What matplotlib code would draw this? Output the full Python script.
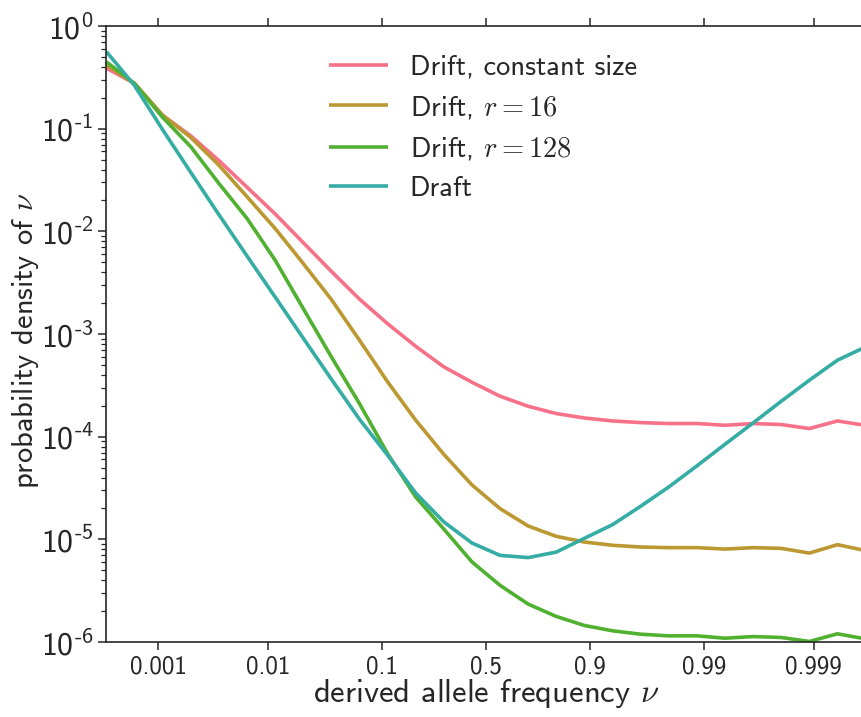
import numpy as np
import matplotlib
matplotlib.use("Agg")
import matplotlib.pyplot as plt
from matplotlib.ticker import FixedLocator, FixedFormatter, NullLocator, FuncFormatter

plt.rcParams['font.family'] = 'cmss10'
plt.rcParams['mathtext.fontset'] = 'custom'
plt.rcParams['mathtext.rm'] = 'cmss10'
plt.rcParams['mathtext.it'] = 'cmss10'
plt.rcParams['mathtext.bf'] = 'cmss10'
plt.rcParams['mathtext.fallback'] = 'cm'
plt.rcParams['axes.formatter.use_mathtext'] = True

# bin centres on the logit axis (log-odds of the derived allele frequency)
logit_nu = [-8.0, -7.407, -6.815, -6.222, -5.630, -5.037, -4.444, -3.852,
            -3.259, -2.667, -2.074, -1.481, -0.889, -0.296, 0.296, 0.889,
            1.481, 2.074, 2.667, 3.259, 3.852, 4.444, 5.037, 5.630, 6.222,
            6.815, 7.407, 8.0]

# log10 of probability density
drift_const = [-0.41, -0.56, -0.87, -1.07, -1.31, -1.57, -1.83, -2.11, -2.39,
               -2.66, -2.90, -3.12, -3.32, -3.47, -3.606, -3.704, -3.775,
               -3.818, -3.847, -3.863, -3.872, -3.872, -3.889, -3.872, -3.882,
               -3.921, -3.847, -3.89]
drift_r16 = [-0.38, -0.56, -0.87, -1.085, -1.355, -1.663, -1.972, -2.313,
             -2.664, -3.06, -3.466, -3.84, -4.172, -4.47, -4.701, -4.870,
             -4.971, -5.026, -5.058, -5.075, -5.081, -5.081, -5.095, -5.081,
             -5.088, -5.134, -5.052, -5.11]
drift_r128 = [-0.35, -0.56, -0.89, -1.176, -1.533, -1.874, -2.281, -2.752,
              -3.223, -3.678, -4.165, -4.588, -4.90, -5.22, -5.448, -5.631,
              -5.751, -5.839, -5.891, -5.924, -5.940, -5.940, -5.963, -5.947,
              -5.956, -5.995, -5.92, -5.97]
draft = [-0.25, -0.58, -1.01, -1.426, -1.837, -2.24, -2.64, -3.04, -3.44,
         -3.83, -4.18, -4.55, -4.83, -5.036, -5.156, -5.178, -5.124, -4.99,
         -4.857, -4.678, -4.49, -4.285, -4.074, -3.866, -3.655, -3.45,
         -3.255, -3.126]

labels = ["Drift, constant size", r"Drift, $r=16$", r"Drift, $r=128$", "Draft"]
colors = ["#f77189", "#bb9832", "#50b131", "#36ada4"]
series = [drift_const, drift_r16, drift_r128, draft]

xtick_vals = [0.001, 0.01, 0.1, 0.5, 0.9, 0.99, 0.999]
xtick_labels = ["0.001", "0.01", "0.1", "0.5", "0.9", "0.99", "0.999"]
ytick_vals = [1e-6, 1e-5, 1e-4, 1e-3, 1e-2, 1e-1, 1e0]

nu = 1.0 / (1.0 + np.exp(-np.array(logit_nu)))

fig = plt.figure(figsize=(8.62, 7.17), dpi=100)
ax = fig.add_axes([106.4 / 862, 75 / 717, 759.2 / 862, 616 / 717])

for ys, lab, col in zip(series, labels, colors):
    ax.plot(nu, 10.0 ** np.array(ys), color=col, lw=2.6, label=lab,
            solid_capstyle='butt')

ax.set_xscale('logit')
ax.set_yscale('log')
ax.set_xlim(nu[0], nu[-1])
ax.set_ylim(1e-6, 1)

ax.xaxis.set_major_locator(FixedLocator(xtick_vals))
ax.xaxis.set_major_formatter(FixedFormatter(xtick_labels))
ax.xaxis.set_minor_locator(NullLocator())


def ylab(v, pos):
    e = int(round(np.log10(v)))
    es = r"\text{-}%d" % (-e) if e < 0 else "%d" % e
    return r"$\mathdefault{10^{%s}}$" % es


ax.yaxis.set_major_locator(FixedLocator(ytick_vals))
ax.yaxis.set_major_formatter(FuncFormatter(ylab))

dark = '#262626'
for sp in ax.spines.values():
    sp.set_color(dark)
    sp.set_linewidth(1.2)
ax.tick_params(which='both', direction='out', top=True, right=True,
               color=dark, labelcolor=dark)
ax.tick_params(which='major', length=6, width=1.1)
ax.tick_params(axis='x', which='major', labelsize=18, pad=4)
ax.tick_params(axis='y', which='major', labelsize=23, pad=3)
ax.tick_params(which='minor', length=3.5, width=0.9)

ax.set_xlabel(r"derived allele frequency $\nu$", fontsize=23.5, color=dark,
              math_fontfamily='cm', labelpad=-1)
ax.set_ylabel(r"probability density of $\nu$", fontsize=22, color=dark,
              math_fontfamily='cm')
ax.yaxis.set_label_coords(-0.086, 0.49)

leg = ax.legend(loc='upper left', bbox_to_anchor=(0.259, 0.995), frameon=False,
                fontsize=20.5, handlelength=2.1, handletextpad=0.75,
                labelspacing=0.5)
for t in leg.get_texts():
    t.set_color(dark)
    t.set_math_fontfamily('cm')

fig.savefig("out.png", dpi=100)
